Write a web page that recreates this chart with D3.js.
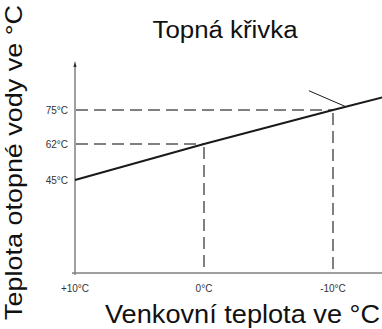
<!DOCTYPE html>
<html>
<head>
<meta charset="utf-8">
<script src="https://cdn.jsdelivr.net/npm/d3@7"></script>
<style>
  html, body { margin: 0; padding: 0; background: #fff; }
  svg { display: block; }
  text { font-family: "Liberation Sans", Arial, Helvetica, sans-serif; }
</style>
</head>
<body>
<svg id="chart" width="382" height="329"></svg>
<script>
// Heating curve: outdoor temperature vs. flow water temperature
const outdoorTemps = [10, 0, -10, -14];          // °C outside
const waterTemps   = [45, 62, 75, 80];           // °C flow water
const xTickValues  = [10, 0, -10];
const xTickLabels  = ["+10°C", "0°C", "-10°C"];
const yTickValues  = [45, 62, 75];
const yTickLabels  = ["45°C", "62°C", "75°C"];
const guidePoints  = [[0, 62], [-10, 75]];       // dashed reading guides
const title  = "Topná křivka";
const xTitle = "Venkovní teplota ve °C";
const yTitle = "Teplota otopné vody ve °C";

const svg = d3.select("#chart");
const W = 382, H = 329;
const axisX = 75, axisY = 273, axisTop = 61;

const x = d3.scaleLinear().domain([10, -10]).range([axisX, 333]);
// the water-temperature axis is not uniform: the marked values sit at fixed heights
const y = d3.scaleLinear().domain([0, 45, 62, 75]).range([axisY, 180, 144, 110]);

const grey = "#808080";

// dashed guides
const guides = svg.append("g")
  .attr("stroke", grey).attr("stroke-width", 2)
  .attr("stroke-dasharray", "12,6").attr("fill", "none");
guidePoints.forEach(([ox, wy]) => {
  guides.append("line")
    .attr("x1", axisX + 1).attr("x2", x(ox)).attr("y1", y(wy)).attr("y2", y(wy));
  guides.append("line")
    .attr("x1", x(ox)).attr("x2", x(ox)).attr("y1", y(wy) + 3).attr("y2", axisY);
});

// axes
svg.append("line").attr("x1", axisX).attr("x2", axisX)
  .attr("y1", axisTop + 4).attr("y2", axisY + 2)
  .attr("stroke", grey).attr("stroke-width", 1.5);
svg.append("line").attr("x1", 72).attr("x2", W)
  .attr("y1", axisY).attr("y2", axisY)
  .attr("stroke", grey).attr("stroke-width", 1.5);
svg.append("path")
  .attr("d", `M${axisX},${axisTop} L${axisX - 1.6},${axisTop + 6} L${axisX + 1.6},${axisTop + 6} Z`)
  .attr("fill", "#333");

// tick labels
svg.append("g").selectAll("text").data(xTickValues).join("text")
  .attr("x", d => x(d)).attr("y", 292)
  .attr("text-anchor", "middle").attr("font-size", 10).attr("fill", "#333")
  .text((d, i) => xTickLabels[i]);
svg.append("g").selectAll("text").data(yTickValues).join("text")
  .attr("x", 68).attr("y", d => y(d) + 3.5)
  .attr("text-anchor", "end").attr("font-size", 10).attr("fill", "#333")
  .text((d, i) => yTickLabels[i]);

// heating curve
const pts = outdoorTemps.map((t, i) => [t, waterTemps[i]]);
svg.append("path")
  .datum(pts)
  .attr("d", d3.line().x(d => x(d[0])).y(d => y(d[1])))
  .attr("fill", "none").attr("stroke", "#1a1a1a").attr("stroke-width", 2);

// pointer to the curve
const pOut = -11;
const pWater = d3.scaleLinear().domain([-10, -14]).range([75, 80])(pOut);
svg.append("line")
  .attr("x1", x(pOut) - 37).attr("y1", y(pWater) - 16)
  .attr("x2", x(pOut)).attr("y2", y(pWater))
  .attr("stroke", "#1a1a1a").attr("stroke-width", 1);

// titles
svg.append("text").attr("x", 225).attr("y", 38)
  .attr("text-anchor", "middle").attr("font-size", 23)
  .attr("textLength", 145).attr("lengthAdjust", "spacingAndGlyphs")
  .attr("fill", "#111").text(title);
svg.append("text").attr("x", 105).attr("y", 323)
  .attr("font-size", 25)
  .attr("textLength", 275).attr("lengthAdjust", "spacingAndGlyphs")
  .attr("fill", "#111").text(xTitle);
svg.append("text")
  .attr("transform", "translate(22,320) rotate(-90)")
  .attr("font-size", 24)
  .attr("textLength", 315).attr("lengthAdjust", "spacingAndGlyphs")
  .attr("fill", "#111").text(yTitle);
</script>
</body>
</html>
